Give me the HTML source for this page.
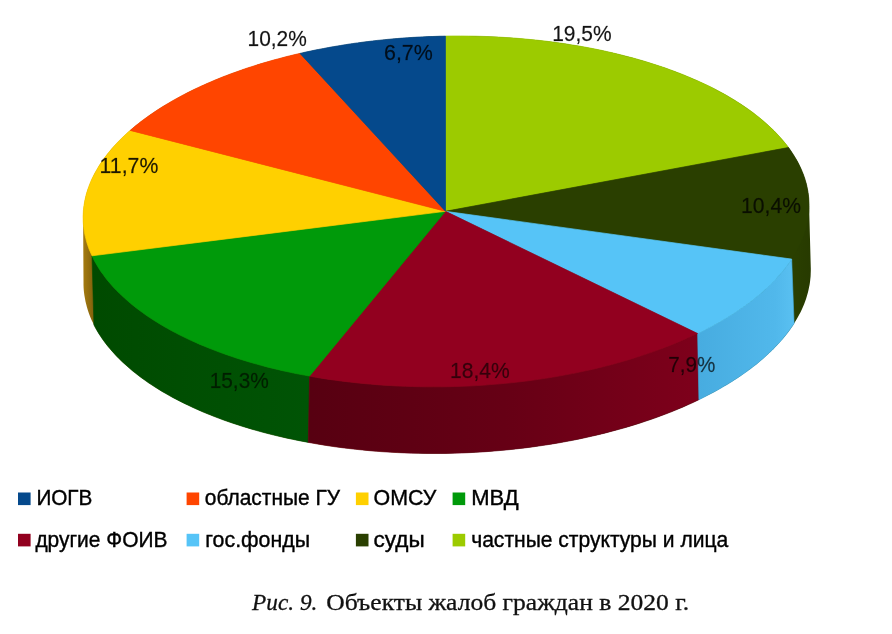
<!DOCTYPE html>
<html lang="ru"><head><meta charset="utf-8"><title>Рис. 9. Объекты жалоб граждан в 2020 г.</title>
<style>
html,body{margin:0;padding:0;background:#fff}
svg{display:block;filter:blur(0.45px)}
.lab text{font-family:"Liberation Sans",sans-serif;font-size:22.3px;fill:#000;stroke:#000;stroke-width:.35px}
.leg text{font-family:"Liberation Sans",sans-serif;font-size:22.3px;fill:#000;stroke:#000;stroke-width:.4px}
.cap{font-family:"Liberation Serif","DejaVu Serif",serif;font-size:23.4px;fill:#111;stroke:#111;stroke-width:.3px}
</style></head><body>
<svg width="892" height="634" viewBox="0 0 892 634">
<defs>
<linearGradient id="gy" gradientUnits="userSpaceOnUse" x1="82" y1="0" x2="96" y2="0"><stop offset="0" stop-color="#A97E10"/><stop offset="1" stop-color="#7A5C0C"/></linearGradient>
<linearGradient id="go" gradientUnits="userSpaceOnUse" x1="793" y1="0" x2="812" y2="0"><stop offset="0" stop-color="#2A3F00"/><stop offset="1" stop-color="#273A00"/></linearGradient>
<linearGradient id="gg" gradientUnits="userSpaceOnUse" x1="92" y1="0" x2="310" y2="0"><stop offset="0" stop-color="#004A00"/><stop offset="1" stop-color="#005405"/></linearGradient>
<linearGradient id="gr" gradientUnits="userSpaceOnUse" x1="310" y1="0" x2="698" y2="0"><stop offset="0" stop-color="#570011"/><stop offset="0.5" stop-color="#660015"/><stop offset="1" stop-color="#7E001B"/></linearGradient>
<linearGradient id="gb" gradientUnits="userSpaceOnUse" x1="698" y1="0" x2="795" y2="0"><stop offset="0" stop-color="#47ACE0"/><stop offset="0.8" stop-color="#51B8EB"/><stop offset="1" stop-color="#5AC1F2"/></linearGradient>
</defs>
<rect width="892" height="634" fill="#fff"/>
<g><clipPath id="L"><rect x="0" y="0" width="400" height="634"/></clipPath>
<clipPath id="R"><rect x="400" y="0" width="492" height="634"/></clipPath>
<path d="M83.5,282.2 L83.1,216.6 L83.2,213.8 L83.4,211.1 L83.6,208.3 L84.0,205.6 L84.4,202.8 L84.9,200.1 L85.5,197.3 L86.2,194.6 L87.0,191.8 L87.9,189.1 L88.9,186.4 L89.9,183.7 L91.1,180.9 L92.3,178.2 L93.6,175.5 L95.0,172.8 L96.5,170.2 L98.1,167.5 L99.7,164.8 L101.5,162.2 L103.3,159.5 L105.2,156.9 L107.2,154.3 L109.3,151.7 L111.5,149.1 L113.7,146.5 L116.1,144.0 L118.5,141.5 L121.0,138.9 L123.5,136.4 L126.2,134.0 L128.9,131.5 L131.7,129.1 L134.6,126.6 L137.6,124.2 L140.6,121.8 L143.8,119.5 L146.9,117.2 L150.2,114.8 L153.5,112.6 L157.0,110.3 L160.4,108.1 L164.0,105.8 L167.6,103.7 L171.3,101.5 L175.1,99.4 L178.9,97.3 L182.8,95.2 L186.7,93.1 L190.8,91.1 L194.8,89.1 L199.0,87.2 L203.2,85.2 L207.5,83.3 L211.8,81.5 L216.2,79.6 L220.6,77.8 L225.1,76.1 L229.6,74.3 L234.3,72.6 L238.9,70.9 L243.6,69.3 L248.4,67.7 L253.2,66.2 L258.0,64.6 L262.9,63.1 L267.9,61.7 L272.9,60.3 L277.9,58.9 L283.0,57.5 L288.1,56.2 L293.2,55.0 L298.4,53.8 L303.6,52.6 L308.9,51.4 L314.2,50.3 L319.5,49.2 L324.9,48.2 L330.3,47.2 L335.7,46.3 L341.1,45.4 L346.6,44.5 L352.1,43.7 L357.6,42.9 L363.2,42.1 L368.7,41.4 L374.3,40.8 L379.9,40.2 L385.5,39.6 L391.1,39.1 L396.8,38.6 L402.4,38.1 L408.1,37.7 L413.8,37.3 L419.5,37.0 L425.1,36.8 L430.8,36.5 L436.5,36.3 L442.2,36.2 L447.9,36.1 L453.6,36.0 L459.3,36.0 L465.0,36.0 L470.7,36.1 L476.4,36.2 L482.1,36.4 L487.7,36.6 L493.4,36.8 L499.1,37.1 L504.7,37.4 L510.3,37.8 L515.9,38.2 L521.5,38.7 L527.1,39.2 L532.6,39.7 L538.1,40.3 L543.6,40.9 L549.1,41.6 L554.6,42.3 L560.0,43.1 L565.4,43.8 L570.8,44.7 L576.1,45.6 L581.4,46.5 L586.7,47.4 L591.9,48.4 L597.1,49.5 L602.3,50.6 L607.4,51.7 L612.5,52.8 L617.5,54.0 L622.5,55.3 L627.5,56.5 L632.4,57.8 L637.3,59.2 L642.1,60.6 L646.9,62.0 L651.6,63.5 L656.3,65.0 L660.9,66.5 L665.5,68.1 L670.0,69.7 L674.4,71.3 L678.8,73.0 L683.2,74.7 L687.5,76.5 L691.7,78.2 L695.9,80.0 L700.0,81.9 L704.0,83.8 L708.0,85.7 L711.9,87.6 L715.8,89.6 L719.5,91.6 L723.3,93.6 L726.9,95.6 L730.5,97.7 L734.0,99.8 L737.4,102.0 L740.8,104.1 L744.1,106.3 L747.3,108.6 L750.4,110.8 L753.5,113.1 L756.5,115.4 L759.4,117.7 L762.2,120.0 L765.0,122.4 L767.7,124.8 L770.3,127.2 L772.8,129.6 L775.3,132.0 L777.6,134.5 L779.9,137.0 L782.1,139.5 L784.2,142.0 L786.2,144.6 L788.2,147.1 L790.0,149.7 L791.8,152.3 L793.5,154.9 L795.1,157.5 L796.6,160.1 L798.1,162.8 L799.4,165.4 L800.7,168.1 L801.8,170.8 L802.9,173.4 L803.9,176.1 L804.8,178.8 L805.6,181.6 L806.4,184.3 L807.0,187.0 L807.6,189.7 L808.0,192.5 L808.4,195.2 L808.7,197.9 L808.9,200.7 L809.0,203.4 L810.8,268.2 L810.8,271.0 L810.7,273.7 L810.6,276.5 L810.3,279.3 L810.0,282.1 L809.6,284.8 L809.0,287.6 L808.4,290.4 L807.7,293.2 L806.9,295.9 L806.1,298.7 L805.1,301.4 L804.1,304.2 L802.9,306.9 L801.7,309.7 L800.4,312.4 L799.0,315.1 L797.5,317.8 L795.9,320.5 L794.2,323.2 L792.5,325.9 L790.7,328.5 L788.8,331.2 L786.8,333.8 L784.7,336.4 L782.5,339.0 L780.2,341.6 L777.9,344.2 L775.5,346.8 L773.0,349.3 L770.4,351.8 L767.8,354.3 L765.0,356.8 L762.2,359.3 L759.3,361.7 L756.4,364.2 L753.3,366.6 L750.2,369.0 L747.0,371.3 L743.7,373.6 L740.4,376.0 L737.0,378.2 L733.5,380.5 L729.9,382.7 L726.3,385.0 L722.6,387.1 L718.9,389.3 L715.0,391.4 L711.1,393.5 L707.2,395.6 L703.1,397.6 L699.1,399.6 L694.9,401.6 L690.7,403.6 L686.4,405.5 L682.1,407.4 L677.7,409.2 L673.3,411.1 L668.8,412.8 L664.2,414.6 L659.6,416.3 L654.9,418.0 L650.2,419.7 L645.4,421.3 L640.6,422.9 L635.8,424.4 L630.9,425.9 L625.9,427.4 L620.9,428.8 L615.9,430.2 L610.8,431.6 L605.7,432.9 L600.5,434.2 L595.3,435.4 L590.1,436.6 L584.8,437.8 L579.5,438.9 L574.2,440.0 L568.8,441.0 L563.4,442.0 L558.0,443.0 L552.5,443.9 L547.0,444.8 L541.5,445.6 L536.0,446.4 L530.5,447.2 L524.9,447.9 L519.3,448.6 L513.7,449.2 L508.1,449.8 L502.4,450.3 L496.8,450.8 L491.1,451.3 L485.4,451.7 L479.8,452.1 L474.1,452.4 L468.4,452.7 L462.7,452.9 L456.9,453.1 L451.2,453.3 L445.5,453.4 L439.8,453.5 L434.1,453.5 L428.4,453.5 L422.7,453.4 L417.0,453.3 L411.3,453.1 L405.6,453.0 L400.0,452.7 L394.3,452.4 L388.7,452.1 L383.0,451.7 L377.4,451.3 L371.8,450.9 L366.2,450.4 L360.7,449.8 L355.1,449.2 L349.6,448.6 L344.1,448.0 L338.7,447.2 L333.2,446.5 L327.8,445.7 L322.4,444.9 L317.1,444.0 L311.8,443.1 L306.5,442.1 L301.2,441.1 L296.0,440.1 L290.8,439.0 L285.7,437.9 L280.6,436.7 L275.6,435.5 L270.5,434.2 L265.6,433.0 L260.6,431.6 L255.8,430.3 L250.9,428.9 L246.1,427.5 L241.4,426.0 L236.7,424.5 L232.1,422.9 L227.5,421.4 L223.0,419.8 L218.5,418.1 L214.1,416.4 L209.7,414.7 L205.4,412.9 L201.2,411.2 L197.0,409.3 L192.9,407.5 L188.9,405.6 L184.9,403.7 L180.9,401.7 L177.1,399.8 L173.3,397.7 L169.6,395.7 L165.9,393.6 L162.3,391.5 L158.8,389.4 L155.4,387.3 L152.0,385.1 L148.7,382.9 L145.5,380.6 L142.3,378.4 L139.2,376.1 L136.2,373.8 L133.3,371.4 L130.5,369.1 L127.7,366.7 L125.0,364.3 L122.4,361.9 L119.9,359.4 L117.4,357.0 L115.0,354.5 L112.8,352.0 L110.6,349.5 L108.4,346.9 L106.4,344.4 L104.4,341.8 L102.6,339.2 L100.8,336.6 L99.1,334.0 L97.5,331.3 L96.0,328.7 L94.5,326.0 L93.2,323.3 L91.9,320.7 L90.7,318.0 L89.6,315.3 L88.6,312.5 L87.7,309.8 L86.9,307.1 L86.2,304.3 L85.5,301.6 L85.0,298.8 L84.5,296.1 L84.1,293.3 L83.8,290.5 L83.6,287.8 L83.5,285.0Z" fill="url(#gy)" clip-path="url(#L)"/>
<path d="M83.5,282.2 L83.1,216.6 L83.2,213.8 L83.4,211.1 L83.6,208.3 L84.0,205.6 L84.4,202.8 L84.9,200.1 L85.5,197.3 L86.2,194.6 L87.0,191.8 L87.9,189.1 L88.9,186.4 L89.9,183.7 L91.1,180.9 L92.3,178.2 L93.6,175.5 L95.0,172.8 L96.5,170.2 L98.1,167.5 L99.7,164.8 L101.5,162.2 L103.3,159.5 L105.2,156.9 L107.2,154.3 L109.3,151.7 L111.5,149.1 L113.7,146.5 L116.1,144.0 L118.5,141.5 L121.0,138.9 L123.5,136.4 L126.2,134.0 L128.9,131.5 L131.7,129.1 L134.6,126.6 L137.6,124.2 L140.6,121.8 L143.8,119.5 L146.9,117.2 L150.2,114.8 L153.5,112.6 L157.0,110.3 L160.4,108.1 L164.0,105.8 L167.6,103.7 L171.3,101.5 L175.1,99.4 L178.9,97.3 L182.8,95.2 L186.7,93.1 L190.8,91.1 L194.8,89.1 L199.0,87.2 L203.2,85.2 L207.5,83.3 L211.8,81.5 L216.2,79.6 L220.6,77.8 L225.1,76.1 L229.6,74.3 L234.3,72.6 L238.9,70.9 L243.6,69.3 L248.4,67.7 L253.2,66.2 L258.0,64.6 L262.9,63.1 L267.9,61.7 L272.9,60.3 L277.9,58.9 L283.0,57.5 L288.1,56.2 L293.2,55.0 L298.4,53.8 L303.6,52.6 L308.9,51.4 L314.2,50.3 L319.5,49.2 L324.9,48.2 L330.3,47.2 L335.7,46.3 L341.1,45.4 L346.6,44.5 L352.1,43.7 L357.6,42.9 L363.2,42.1 L368.7,41.4 L374.3,40.8 L379.9,40.2 L385.5,39.6 L391.1,39.1 L396.8,38.6 L402.4,38.1 L408.1,37.7 L413.8,37.3 L419.5,37.0 L425.1,36.8 L430.8,36.5 L436.5,36.3 L442.2,36.2 L447.9,36.1 L453.6,36.0 L459.3,36.0 L465.0,36.0 L470.7,36.1 L476.4,36.2 L482.1,36.4 L487.7,36.6 L493.4,36.8 L499.1,37.1 L504.7,37.4 L510.3,37.8 L515.9,38.2 L521.5,38.7 L527.1,39.2 L532.6,39.7 L538.1,40.3 L543.6,40.9 L549.1,41.6 L554.6,42.3 L560.0,43.1 L565.4,43.8 L570.8,44.7 L576.1,45.6 L581.4,46.5 L586.7,47.4 L591.9,48.4 L597.1,49.5 L602.3,50.6 L607.4,51.7 L612.5,52.8 L617.5,54.0 L622.5,55.3 L627.5,56.5 L632.4,57.8 L637.3,59.2 L642.1,60.6 L646.9,62.0 L651.6,63.5 L656.3,65.0 L660.9,66.5 L665.5,68.1 L670.0,69.7 L674.4,71.3 L678.8,73.0 L683.2,74.7 L687.5,76.5 L691.7,78.2 L695.9,80.0 L700.0,81.9 L704.0,83.8 L708.0,85.7 L711.9,87.6 L715.8,89.6 L719.5,91.6 L723.3,93.6 L726.9,95.6 L730.5,97.7 L734.0,99.8 L737.4,102.0 L740.8,104.1 L744.1,106.3 L747.3,108.6 L750.4,110.8 L753.5,113.1 L756.5,115.4 L759.4,117.7 L762.2,120.0 L765.0,122.4 L767.7,124.8 L770.3,127.2 L772.8,129.6 L775.3,132.0 L777.6,134.5 L779.9,137.0 L782.1,139.5 L784.2,142.0 L786.2,144.6 L788.2,147.1 L790.0,149.7 L791.8,152.3 L793.5,154.9 L795.1,157.5 L796.6,160.1 L798.1,162.8 L799.4,165.4 L800.7,168.1 L801.8,170.8 L802.9,173.4 L803.9,176.1 L804.8,178.8 L805.6,181.6 L806.4,184.3 L807.0,187.0 L807.6,189.7 L808.0,192.5 L808.4,195.2 L808.7,197.9 L808.9,200.7 L809.0,203.4 L810.8,268.2 L810.8,271.0 L810.7,273.7 L810.6,276.5 L810.3,279.3 L810.0,282.1 L809.6,284.8 L809.0,287.6 L808.4,290.4 L807.7,293.2 L806.9,295.9 L806.1,298.7 L805.1,301.4 L804.1,304.2 L802.9,306.9 L801.7,309.7 L800.4,312.4 L799.0,315.1 L797.5,317.8 L795.9,320.5 L794.2,323.2 L792.5,325.9 L790.7,328.5 L788.8,331.2 L786.8,333.8 L784.7,336.4 L782.5,339.0 L780.2,341.6 L777.9,344.2 L775.5,346.8 L773.0,349.3 L770.4,351.8 L767.8,354.3 L765.0,356.8 L762.2,359.3 L759.3,361.7 L756.4,364.2 L753.3,366.6 L750.2,369.0 L747.0,371.3 L743.7,373.6 L740.4,376.0 L737.0,378.2 L733.5,380.5 L729.9,382.7 L726.3,385.0 L722.6,387.1 L718.9,389.3 L715.0,391.4 L711.1,393.5 L707.2,395.6 L703.1,397.6 L699.1,399.6 L694.9,401.6 L690.7,403.6 L686.4,405.5 L682.1,407.4 L677.7,409.2 L673.3,411.1 L668.8,412.8 L664.2,414.6 L659.6,416.3 L654.9,418.0 L650.2,419.7 L645.4,421.3 L640.6,422.9 L635.8,424.4 L630.9,425.9 L625.9,427.4 L620.9,428.8 L615.9,430.2 L610.8,431.6 L605.7,432.9 L600.5,434.2 L595.3,435.4 L590.1,436.6 L584.8,437.8 L579.5,438.9 L574.2,440.0 L568.8,441.0 L563.4,442.0 L558.0,443.0 L552.5,443.9 L547.0,444.8 L541.5,445.6 L536.0,446.4 L530.5,447.2 L524.9,447.9 L519.3,448.6 L513.7,449.2 L508.1,449.8 L502.4,450.3 L496.8,450.8 L491.1,451.3 L485.4,451.7 L479.8,452.1 L474.1,452.4 L468.4,452.7 L462.7,452.9 L456.9,453.1 L451.2,453.3 L445.5,453.4 L439.8,453.5 L434.1,453.5 L428.4,453.5 L422.7,453.4 L417.0,453.3 L411.3,453.1 L405.6,453.0 L400.0,452.7 L394.3,452.4 L388.7,452.1 L383.0,451.7 L377.4,451.3 L371.8,450.9 L366.2,450.4 L360.7,449.8 L355.1,449.2 L349.6,448.6 L344.1,448.0 L338.7,447.2 L333.2,446.5 L327.8,445.7 L322.4,444.9 L317.1,444.0 L311.8,443.1 L306.5,442.1 L301.2,441.1 L296.0,440.1 L290.8,439.0 L285.7,437.9 L280.6,436.7 L275.6,435.5 L270.5,434.2 L265.6,433.0 L260.6,431.6 L255.8,430.3 L250.9,428.9 L246.1,427.5 L241.4,426.0 L236.7,424.5 L232.1,422.9 L227.5,421.4 L223.0,419.8 L218.5,418.1 L214.1,416.4 L209.7,414.7 L205.4,412.9 L201.2,411.2 L197.0,409.3 L192.9,407.5 L188.9,405.6 L184.9,403.7 L180.9,401.7 L177.1,399.8 L173.3,397.7 L169.6,395.7 L165.9,393.6 L162.3,391.5 L158.8,389.4 L155.4,387.3 L152.0,385.1 L148.7,382.9 L145.5,380.6 L142.3,378.4 L139.2,376.1 L136.2,373.8 L133.3,371.4 L130.5,369.1 L127.7,366.7 L125.0,364.3 L122.4,361.9 L119.9,359.4 L117.4,357.0 L115.0,354.5 L112.8,352.0 L110.6,349.5 L108.4,346.9 L106.4,344.4 L104.4,341.8 L102.6,339.2 L100.8,336.6 L99.1,334.0 L97.5,331.3 L96.0,328.7 L94.5,326.0 L93.2,323.3 L91.9,320.7 L90.7,318.0 L89.6,315.3 L88.6,312.5 L87.7,309.8 L86.9,307.1 L86.2,304.3 L85.5,301.6 L85.0,298.8 L84.5,296.1 L84.1,293.3 L83.8,290.5 L83.6,287.8 L83.5,285.0Z" fill="url(#go)" clip-path="url(#R)"/>
<path d="M309.6,376.1 L304.2,375.1 L298.7,374.1 L293.3,373.0 L288.0,371.8 L282.6,370.7 L277.4,369.4 L272.1,368.2 L266.9,366.9 L261.8,365.5 L256.7,364.1 L251.7,362.7 L246.7,361.2 L241.8,359.7 L236.9,358.2 L232.1,356.6 L227.3,354.9 L222.6,353.3 L218.0,351.6 L213.4,349.8 L208.9,348.1 L204.4,346.2 L200.0,344.4 L195.7,342.5 L191.4,340.6 L187.2,338.6 L183.1,336.6 L179.0,334.6 L175.1,332.5 L171.2,330.5 L167.3,328.3 L163.6,326.2 L159.9,324.0 L156.3,321.8 L152.7,319.5 L149.3,317.3 L145.9,315.0 L142.6,312.6 L139.4,310.3 L136.3,307.9 L133.2,305.5 L130.2,303.1 L127.4,300.6 L124.6,298.1 L121.9,295.6 L119.2,293.1 L116.7,290.6 L114.2,288.0 L111.9,285.4 L109.6,282.8 L107.4,280.2 L105.3,277.5 L103.4,274.8 L101.4,272.2 L99.6,269.5 L97.9,266.7 L96.3,264.0 L94.7,261.3 L93.3,258.5 L92.0,255.8 L93.9,324.8 L95.3,327.5 L96.8,330.2 L98.4,332.9 L100.1,335.5 L101.9,338.2 L103.7,340.8 L105.7,343.4 L107.7,346.0 L109.9,348.6 L112.1,351.2 L114.4,353.7 L116.7,356.3 L119.2,358.8 L121.7,361.2 L124.4,363.7 L127.1,366.1 L129.9,368.6 L132.7,371.0 L135.7,373.3 L138.7,375.7 L141.8,378.0 L145.0,380.3 L148.2,382.6 L151.6,384.8 L155.0,387.0 L158.5,389.2 L162.0,391.4 L165.7,393.5 L169.4,395.6 L173.1,397.7 L177.0,399.7 L180.9,401.7 L184.9,403.7 L188.9,405.6 L193.0,407.5 L197.2,409.4 L201.4,411.3 L205.7,413.1 L210.1,414.8 L214.5,416.6 L219.0,418.3 L223.5,420.0 L228.1,421.6 L232.8,423.2 L237.5,424.7 L242.2,426.3 L247.0,427.7 L251.9,429.2 L256.8,430.6 L261.8,432.0 L266.8,433.3 L271.8,434.6 L276.9,435.8 L282.1,437.0 L287.2,438.2 L292.5,439.3 L297.7,440.4 L303.0,441.4 L308.3,442.4Z" fill="url(#gg)" stroke="#004D00" stroke-width="0.6"/>
<path d="M697.6,333.5 L692.5,336.0 L687.2,338.3 L681.9,340.7 L676.5,343.0 L671.0,345.2 L665.3,347.4 L659.7,349.5 L653.9,351.6 L648.1,353.6 L642.1,355.6 L636.1,357.5 L630.1,359.4 L623.9,361.2 L617.7,363.0 L611.5,364.7 L605.1,366.3 L598.7,367.9 L592.3,369.4 L585.8,370.8 L579.2,372.2 L572.6,373.6 L565.9,374.8 L559.2,376.1 L552.5,377.2 L545.7,378.3 L538.9,379.3 L532.0,380.3 L525.1,381.2 L518.2,382.0 L511.2,382.8 L504.2,383.4 L497.2,384.1 L490.2,384.6 L483.2,385.2 L476.1,385.6 L469.1,386.0 L462.0,386.3 L454.9,386.5 L447.8,386.7 L440.8,386.8 L433.7,386.8 L426.6,386.8 L419.5,386.7 L412.5,386.5 L405.4,386.3 L398.4,386.0 L391.4,385.6 L384.4,385.2 L377.4,384.7 L370.5,384.1 L363.6,383.5 L356.7,382.8 L349.9,382.0 L343.0,381.2 L336.3,380.3 L329.6,379.4 L322.9,378.4 L316.2,377.3 L309.6,376.1 L308.3,442.4 L315.0,443.6 L321.6,444.7 L328.3,445.8 L335.1,446.8 L341.9,447.7 L348.7,448.5 L355.6,449.3 L362.5,450.0 L369.5,450.7 L376.4,451.3 L383.4,451.8 L390.5,452.2 L397.5,452.6 L404.6,452.9 L411.7,453.2 L418.8,453.3 L425.9,453.4 L433.0,453.5 L440.1,453.5 L447.2,453.4 L454.4,453.2 L461.5,453.0 L468.6,452.7 L475.7,452.3 L482.8,451.9 L489.9,451.4 L497.0,450.8 L504.0,450.2 L511.0,449.5 L518.1,448.7 L525.0,447.9 L532.0,447.0 L538.9,446.0 L545.8,445.0 L552.6,443.9 L559.4,442.8 L566.2,441.5 L572.9,440.3 L579.5,438.9 L586.1,437.5 L592.7,436.0 L599.2,434.5 L605.6,432.9 L612.0,431.2 L618.3,429.5 L624.6,427.8 L630.8,425.9 L636.9,424.1 L642.9,422.1 L648.9,420.1 L654.8,418.1 L660.6,415.9 L666.3,413.8 L672.0,411.6 L677.5,409.3 L683.0,407.0 L688.4,404.6 L693.7,402.2 L698.9,399.7Z" fill="url(#gr)" stroke="#650015" stroke-width="0.6"/>
<path d="M791.7,259.1 L790.8,260.5 L789.8,261.9 L788.8,263.3 L787.8,264.7 L786.8,266.1 L785.7,267.5 L784.6,268.9 L783.5,270.3 L782.4,271.7 L781.2,273.0 L780.0,274.4 L778.8,275.8 L777.6,277.1 L776.4,278.5 L775.1,279.9 L773.8,281.2 L772.5,282.6 L771.1,283.9 L769.8,285.2 L768.4,286.6 L767.0,287.9 L765.5,289.2 L764.1,290.5 L762.6,291.9 L761.1,293.2 L759.6,294.5 L758.0,295.8 L756.5,297.0 L754.9,298.3 L753.3,299.6 L751.6,300.9 L750.0,302.1 L748.3,303.4 L746.6,304.6 L744.9,305.9 L743.1,307.1 L741.4,308.3 L739.6,309.6 L737.8,310.8 L736.0,312.0 L734.1,313.2 L732.3,314.4 L730.4,315.6 L728.5,316.8 L726.6,317.9 L724.6,319.1 L722.7,320.3 L720.7,321.4 L718.7,322.5 L716.6,323.7 L714.6,324.8 L712.6,325.9 L710.5,327.0 L708.4,328.1 L706.3,329.2 L704.1,330.3 L702.0,331.4 L699.8,332.5 L697.6,333.5 L698.9,399.7 L701.1,398.7 L703.3,397.6 L705.5,396.5 L707.6,395.3 L709.8,394.2 L711.9,393.1 L714.0,392.0 L716.1,390.8 L718.2,389.7 L720.3,388.5 L722.3,387.3 L724.3,386.1 L726.3,385.0 L728.3,383.8 L730.2,382.6 L732.2,381.4 L734.1,380.1 L736.0,378.9 L737.8,377.7 L739.7,376.4 L741.5,375.2 L743.3,373.9 L745.1,372.7 L746.9,371.4 L748.6,370.1 L750.3,368.9 L752.0,367.6 L753.7,366.3 L755.4,365.0 L757.0,363.7 L758.6,362.4 L760.2,361.0 L761.7,359.7 L763.3,358.4 L764.8,357.0 L766.3,355.7 L767.8,354.3 L769.2,353.0 L770.6,351.6 L772.1,350.3 L773.4,348.9 L774.8,347.5 L776.1,346.1 L777.4,344.7 L778.7,343.4 L780.0,342.0 L781.2,340.6 L782.4,339.2 L783.6,337.7 L784.8,336.3 L785.9,334.9 L787.0,333.5 L788.1,332.1 L789.2,330.6 L790.2,329.2 L791.2,327.7 L792.2,326.3 L793.2,324.9 L794.1,323.4Z" fill="url(#gb)" stroke="#45ADE2" stroke-width="0.6"/>
<path d="M445.5,211.3 L445.4,36.1 L453.0,36.0 L460.6,36.0 L468.2,36.1 L475.7,36.2 L483.3,36.4 L490.9,36.7 L498.4,37.1 L505.9,37.5 L513.4,38.0 L520.8,38.6 L528.2,39.3 L535.6,40.0 L542.9,40.8 L550.2,41.7 L557.5,42.7 L564.7,43.7 L571.8,44.9 L578.9,46.0 L586.0,47.3 L592.9,48.6 L599.9,50.0 L606.7,51.5 L613.5,53.1 L620.2,54.7 L626.8,56.4 L633.4,58.1 L639.8,59.9 L646.2,61.8 L652.5,63.8 L658.7,65.8 L664.8,67.8 L670.8,70.0 L676.7,72.2 L682.5,74.4 L688.2,76.8 L693.8,79.2 L699.3,81.6 L704.7,84.1 L710.0,86.6 L715.1,89.2 L720.2,91.9 L725.1,94.6 L729.9,97.4 L734.6,100.2 L739.1,103.1 L743.5,106.0 L747.8,108.9 L752.0,111.9 L756.0,115.0 L759.9,118.1 L763.6,121.2 L767.2,124.4 L770.7,127.6 L774.0,130.8 L777.2,134.1 L780.2,137.4 L783.1,140.7 L785.9,144.1 L788.5,147.5Z" fill="#9CCB00" stroke="#9CCB00" stroke-width="0.7" stroke-linejoin="round"/>
<path d="M445.5,211.3 L788.5,147.5 L789.8,149.3 L791.0,151.1 L792.2,152.9 L793.4,154.7 L794.5,156.6 L795.6,158.4 L796.7,160.2 L797.7,162.1 L798.7,163.9 L799.6,165.8 L800.5,167.7 L801.3,169.5 L802.1,171.4 L802.9,173.3 L803.6,175.2 L804.2,177.0 L804.9,178.9 L805.4,180.8 L806.0,182.7 L806.5,184.6 L806.9,186.5 L807.3,188.4 L807.7,190.4 L808.0,192.3 L808.3,194.2 L808.5,196.1 L808.7,198.0 L808.8,199.9 L808.9,201.9 L809.0,203.8 L809.0,205.7 L809.0,207.6 L808.9,209.6 L808.8,211.5 L808.6,213.4 L808.4,215.4 L808.2,217.3 L807.9,219.2 L807.5,221.1 L807.1,223.0 L806.7,225.0 L806.3,226.9 L805.7,228.8 L805.2,230.7 L804.6,232.6 L803.9,234.5 L803.3,236.5 L802.5,238.4 L801.8,240.3 L801.0,242.2 L800.1,244.1 L799.2,245.9 L798.3,247.8 L797.3,249.7 L796.2,251.6 L795.2,253.5 L794.1,255.3 L792.9,257.2 L791.7,259.1Z" fill="#2A3F00" stroke="#2A3F00" stroke-width="0.7" stroke-linejoin="round"/>
<path d="M445.5,211.3 L791.7,259.1 L790.8,260.5 L789.8,261.9 L788.8,263.3 L787.8,264.7 L786.8,266.1 L785.7,267.5 L784.6,268.9 L783.5,270.3 L782.4,271.7 L781.2,273.0 L780.0,274.4 L778.8,275.8 L777.6,277.1 L776.4,278.5 L775.1,279.9 L773.8,281.2 L772.5,282.6 L771.1,283.9 L769.8,285.2 L768.4,286.6 L767.0,287.9 L765.5,289.2 L764.1,290.5 L762.6,291.9 L761.1,293.2 L759.6,294.5 L758.0,295.8 L756.5,297.0 L754.9,298.3 L753.3,299.6 L751.6,300.9 L750.0,302.1 L748.3,303.4 L746.6,304.6 L744.9,305.9 L743.1,307.1 L741.4,308.3 L739.6,309.6 L737.8,310.8 L736.0,312.0 L734.1,313.2 L732.3,314.4 L730.4,315.6 L728.5,316.8 L726.6,317.9 L724.6,319.1 L722.7,320.3 L720.7,321.4 L718.7,322.5 L716.6,323.7 L714.6,324.8 L712.6,325.9 L710.5,327.0 L708.4,328.1 L706.3,329.2 L704.1,330.3 L702.0,331.4 L699.8,332.5 L697.6,333.5Z" fill="#56C4F7" stroke="#56C4F7" stroke-width="0.7" stroke-linejoin="round"/>
<path d="M445.5,211.3 L697.6,333.5 L692.5,336.0 L687.2,338.3 L681.9,340.7 L676.5,343.0 L671.0,345.2 L665.3,347.4 L659.7,349.5 L653.9,351.6 L648.1,353.6 L642.1,355.6 L636.1,357.5 L630.1,359.4 L623.9,361.2 L617.7,363.0 L611.5,364.7 L605.1,366.3 L598.7,367.9 L592.3,369.4 L585.8,370.8 L579.2,372.2 L572.6,373.6 L565.9,374.8 L559.2,376.1 L552.5,377.2 L545.7,378.3 L538.9,379.3 L532.0,380.3 L525.1,381.2 L518.2,382.0 L511.2,382.8 L504.2,383.4 L497.2,384.1 L490.2,384.6 L483.2,385.2 L476.1,385.6 L469.1,386.0 L462.0,386.3 L454.9,386.5 L447.8,386.7 L440.8,386.8 L433.7,386.8 L426.6,386.8 L419.5,386.7 L412.5,386.5 L405.4,386.3 L398.4,386.0 L391.4,385.6 L384.4,385.2 L377.4,384.7 L370.5,384.1 L363.6,383.5 L356.7,382.8 L349.9,382.0 L343.0,381.2 L336.3,380.3 L329.6,379.4 L322.9,378.4 L316.2,377.3 L309.6,376.1Z" fill="#92001F" stroke="#92001F" stroke-width="0.7" stroke-linejoin="round"/>
<path d="M445.5,211.3 L309.6,376.1 L304.2,375.1 L298.7,374.1 L293.3,373.0 L288.0,371.8 L282.6,370.7 L277.4,369.4 L272.1,368.2 L266.9,366.9 L261.8,365.5 L256.7,364.1 L251.7,362.7 L246.7,361.2 L241.8,359.7 L236.9,358.2 L232.1,356.6 L227.3,354.9 L222.6,353.3 L218.0,351.6 L213.4,349.8 L208.9,348.1 L204.4,346.2 L200.0,344.4 L195.7,342.5 L191.4,340.6 L187.2,338.6 L183.1,336.6 L179.0,334.6 L175.1,332.5 L171.2,330.5 L167.3,328.3 L163.6,326.2 L159.9,324.0 L156.3,321.8 L152.7,319.5 L149.3,317.3 L145.9,315.0 L142.6,312.6 L139.4,310.3 L136.3,307.9 L133.2,305.5 L130.2,303.1 L127.4,300.6 L124.6,298.1 L121.9,295.6 L119.2,293.1 L116.7,290.6 L114.2,288.0 L111.9,285.4 L109.6,282.8 L107.4,280.2 L105.3,277.5 L103.4,274.8 L101.4,272.2 L99.6,269.5 L97.9,266.7 L96.3,264.0 L94.7,261.3 L93.3,258.5 L92.0,255.8Z" fill="#009A0A" stroke="#009A0A" stroke-width="0.7" stroke-linejoin="round"/>
<path d="M445.5,211.3 L92.0,255.8 L91.0,253.6 L90.1,251.5 L89.2,249.4 L88.4,247.2 L87.7,245.1 L87.0,242.9 L86.4,240.8 L85.8,238.6 L85.3,236.5 L84.8,234.3 L84.4,232.1 L84.1,230.0 L83.8,227.8 L83.5,225.6 L83.3,223.4 L83.2,221.2 L83.2,219.1 L83.1,216.9 L83.2,214.7 L83.3,212.5 L83.4,210.3 L83.7,208.1 L83.9,205.9 L84.3,203.7 L84.6,201.6 L85.1,199.4 L85.6,197.2 L86.1,195.0 L86.7,192.8 L87.4,190.7 L88.1,188.5 L88.9,186.3 L89.7,184.2 L90.6,182.0 L91.5,179.8 L92.5,177.7 L93.6,175.6 L94.7,173.4 L95.9,171.3 L97.1,169.2 L98.3,167.0 L99.7,164.9 L101.0,162.8 L102.5,160.7 L104.0,158.6 L105.5,156.5 L107.1,154.5 L108.7,152.4 L110.4,150.4 L112.2,148.3 L114.0,146.3 L115.8,144.2 L117.7,142.2 L119.7,140.2 L121.7,138.2 L123.7,136.2 L125.8,134.3 L128.0,132.3 L130.2,130.4Z" fill="#FFD000" stroke="#FFD000" stroke-width="0.7" stroke-linejoin="round"/>
<path d="M445.5,211.3 L130.2,130.4 L132.2,128.7 L134.2,127.0 L136.2,125.3 L138.3,123.7 L140.4,122.0 L142.5,120.4 L144.7,118.8 L146.9,117.2 L149.2,115.6 L151.5,114.0 L153.8,112.4 L156.2,110.8 L158.5,109.3 L161.0,107.7 L163.4,106.2 L165.9,104.7 L168.5,103.2 L171.0,101.7 L173.6,100.2 L176.2,98.7 L178.9,97.3 L181.6,95.8 L184.3,94.4 L187.0,93.0 L189.8,91.6 L192.6,90.2 L195.5,88.8 L198.3,87.5 L201.2,86.1 L204.2,84.8 L207.1,83.5 L210.1,82.2 L213.1,80.9 L216.2,79.6 L219.2,78.4 L222.3,77.1 L225.4,75.9 L228.6,74.7 L231.8,73.5 L235.0,72.4 L238.2,71.2 L241.4,70.1 L244.7,68.9 L248.0,67.8 L251.3,66.8 L254.7,65.7 L258.0,64.6 L261.4,63.6 L264.8,62.6 L268.2,61.6 L271.7,60.6 L275.2,59.6 L278.7,58.7 L282.2,57.8 L285.7,56.8 L289.3,55.9 L292.8,55.1 L296.4,54.2 L300.0,53.4Z" fill="#FF4500" stroke="#FF4500" stroke-width="0.7" stroke-linejoin="round"/>
<path d="M445.5,211.3 L300.0,53.4 L302.3,52.9 L304.7,52.3 L307.0,51.8 L309.4,51.3 L311.7,50.8 L314.1,50.3 L316.4,49.8 L318.8,49.4 L321.2,48.9 L323.6,48.5 L326.0,48.0 L328.4,47.6 L330.8,47.1 L333.2,46.7 L335.6,46.3 L338.0,45.9 L340.4,45.5 L342.9,45.1 L345.3,44.7 L347.7,44.3 L350.2,43.9 L352.6,43.6 L355.1,43.2 L357.5,42.9 L360.0,42.6 L362.5,42.2 L364.9,41.9 L367.4,41.6 L369.9,41.3 L372.4,41.0 L374.9,40.7 L377.3,40.4 L379.8,40.2 L382.3,39.9 L384.8,39.7 L387.3,39.4 L389.8,39.2 L392.3,38.9 L394.8,38.7 L397.4,38.5 L399.9,38.3 L402.4,38.1 L404.9,37.9 L407.4,37.8 L410.0,37.6 L412.5,37.4 L415.0,37.3 L417.5,37.1 L420.1,37.0 L422.6,36.9 L425.1,36.8 L427.7,36.6 L430.2,36.5 L432.7,36.5 L435.3,36.4 L437.8,36.3 L440.3,36.2 L442.9,36.2 L445.4,36.1Z" fill="#05498C" stroke="#05498C" stroke-width="0.7" stroke-linejoin="round"/></g>
<g class="lab"><text x="247.5" y="46" textLength="59.3" lengthAdjust="spacingAndGlyphs" fill-opacity="0.92" stroke-opacity="0.46">10,2%</text><text x="384.0" y="59.6" textLength="48.8" lengthAdjust="spacingAndGlyphs" fill-opacity="0.8" stroke-opacity="0.40">6,7%</text><text x="552.2" y="40.9" textLength="59.4" lengthAdjust="spacingAndGlyphs" fill-opacity="0.92" stroke-opacity="0.46">19,5%</text><text x="741.1" y="213.4" textLength="59.9" lengthAdjust="spacingAndGlyphs" fill-opacity="0.75" stroke-opacity="0.38">10,4%</text><text x="99.6" y="173.1" textLength="58.7" lengthAdjust="spacingAndGlyphs" fill-opacity="0.88" stroke-opacity="0.44">11,7%</text><text x="209.7" y="387.6" textLength="59.1" lengthAdjust="spacingAndGlyphs" fill-opacity="0.6" stroke-opacity="0.30">15,3%</text><text x="450.0" y="377.5" textLength="59.7" lengthAdjust="spacingAndGlyphs" fill-opacity="0.62" stroke-opacity="0.31">18,4%</text><text x="668.2" y="372.4" textLength="47.1" lengthAdjust="spacingAndGlyphs" fill-opacity="0.7" stroke-opacity="0.35">7,9%</text></g>
<g class="leg"><rect x="18" y="492.5" width="12.6" height="12.6" fill="#05498C"/><text x="36.4" y="505.3" textLength="56.0" lengthAdjust="spacingAndGlyphs">ИОГВ</text><rect x="186.6" y="492.5" width="12.6" height="12.6" fill="#FF4500"/><text x="204.8" y="505.3" textLength="135.3" lengthAdjust="spacingAndGlyphs">областные ГУ</text><rect x="355.9" y="492.5" width="12.6" height="12.6" fill="#FFD000"/><text x="373.5" y="505.3" textLength="62.8" lengthAdjust="spacingAndGlyphs">ОМСУ</text><rect x="452.6" y="492.5" width="12.6" height="12.6" fill="#009A0A"/><text x="471.2" y="505.3" textLength="47.4" lengthAdjust="spacingAndGlyphs">МВД</text><rect x="18" y="533.8" width="12.6" height="12.6" fill="#92001F"/><text x="35.4" y="546.6" textLength="132.1" lengthAdjust="spacingAndGlyphs">другие ФОИВ</text><rect x="186.6" y="533.8" width="12.6" height="12.6" fill="#56C4F7"/><text x="205.3" y="546.6" textLength="104.7" lengthAdjust="spacingAndGlyphs">гос.фонды</text><rect x="355.9" y="533.8" width="12.6" height="12.6" fill="#2A3F00"/><text x="373.5" y="546.6" textLength="51.2" lengthAdjust="spacingAndGlyphs">суды</text><rect x="452.6" y="533.8" width="12.6" height="12.6" fill="#9CCB00"/><text x="471.2" y="546.6" textLength="257.0" lengthAdjust="spacingAndGlyphs">частные структуры и лица</text></g>
<text class="cap" x="252.1" y="610.1" textLength="65.3" lengthAdjust="spacingAndGlyphs" font-style="italic">Рис. 9.</text>
<text class="cap" x="326.3" y="610.1" textLength="362.9" lengthAdjust="spacingAndGlyphs">Объекты жалоб граждан в 2020 г.</text>
</svg>
</body></html>
